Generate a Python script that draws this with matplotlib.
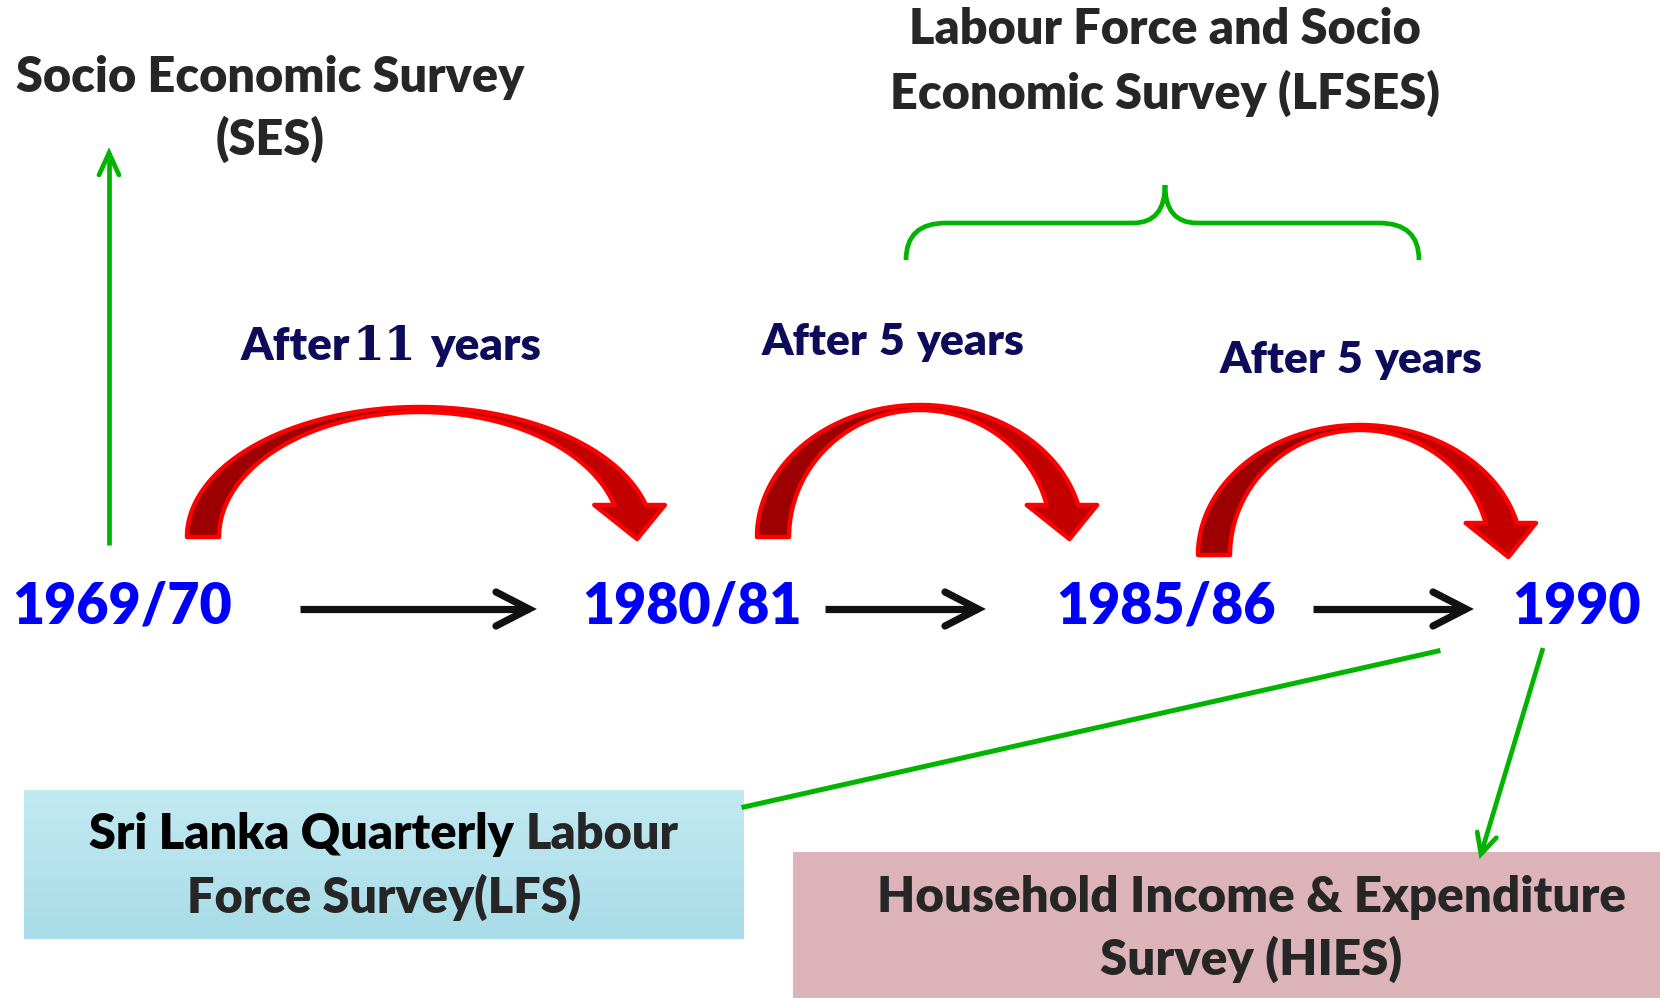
import numpy as np
import matplotlib
matplotlib.use("Agg")
import matplotlib.pyplot as plt
from matplotlib.patches import Polygon, Rectangle, PathPatch
from matplotlib.path import Path

# ---- content ----
years = ["1969/70", "1980/81", "1985/86", "1990"]
gap_years = ["11", "5", "5"]
ses_label = "Socio Economic Survey\n(SES)"
lfses_label = "Labour Force and Socio\nEconomic Survey (LFSES)"
lfs_line1 = [("Sri Lanka Quarterly", "#000000"), ("Labour", "#262626")]
lfs_line2 = "Force Survey(LFS)"
hies_label = "Household Income & Expenditure\nSurvey (HIES)"

# ---- layout (pixel units, y downwards) ----
year_cx = [122, 692, 1166, 1577]
year_base = 624
flow_y = 609
flow_x = [(300, 529), (825, 978), (1313, 1466)]
arc_cx = [420, 920, 1360]
arc_a = [233, 163, 162]
arc_b = [130, 132, 130]
arc_foot = [537, 537, 555]
arc_w = 32
after_x = [241, 762, 1220]
after_base = [360, 355, 373]

FONT = "Lato"
W = "heavy"
DARK = "#262626"
NAVY = "#0c0c5a"
GREEN = "#00b400"

fig = plt.figure(figsize=(16.6, 9.98), dpi=100)
ax = fig.add_axes([0, 0, 1, 1])
ax.set_xlim(0, 1660)
ax.set_ylim(998, 0)
ax.axis("off")
renderer = fig.canvas.get_renderer()


def runs_text(x, y, runs, size, ha="left", gap=0.25):
    # runs: (text, colour, family, weight, size scale)
    objs, widths = [], []
    for s, c, fam, wt, sc in runs:
        t = ax.text(0, y, s, fontsize=size * sc, color=c, family=fam, fontweight=wt,
                    va="baseline", ha="left")
        objs.append(t)
        widths.append(t.get_window_extent(renderer).width)
    gaps = [g * size * 100 / 72 for g in gap] if isinstance(gap, list) else [gap * size * 100 / 72] * len(runs)
    total = sum(widths) + sum(gaps[:-1])
    cur = x - total / 2 if ha == "center" else x
    for i, t in enumerate(objs):
        t.set_x(cur)
        cur += widths[i] + gaps[i]


def chevron_arrow(x0, y0, x1, y1, color, lw, hl, hw):
    ax.plot([x0, x1], [y0, y1], color=color, lw=lw, solid_capstyle="butt")
    d = np.array([x1 - x0, y1 - y0], float)
    d /= np.hypot(*d)
    n = np.array([-d[1], d[0]])
    tip = np.array([x1, y1])
    p1 = tip - d * hl + n * hw
    p2 = tip - d * hl - n * hw
    ax.plot([p1[0], tip[0], p2[0]], [p1[1], tip[1], p2[1]], color=color, lw=lw,
            solid_capstyle="round", solid_joinstyle="miter")


def curved_arrow(cx, foot, a, b, w):
    ai, bi = a - w, b - 5
    head_drop = 32
    th_o = np.arcsin(head_drop / b)
    th_i = np.arcsin(head_drop / bi)

    def ell(A, B, th):
        return np.column_stack([cx + A * np.cos(th), foot - B * np.sin(th)])
    left_o = ell(a, b, np.linspace(np.pi, np.pi / 2, 60))
    left_i = ell(ai, bi, np.linspace(np.pi / 2, np.pi, 60))
    right_o = ell(a, b, np.linspace(np.pi / 2, th_o, 60))
    right_i = ell(ai, bi, np.linspace(th_i, np.pi / 2, 60))
    yb = foot - head_drop
    xo, xi = right_o[-1, 0], right_i[0, 0]
    head = np.array([[xo + 19, yb], [(xo + xi) / 2 + 7, foot + 2], [xi - 20, yb]])
    ax.add_patch(Polygon(np.vstack([left_o, left_i]), closed=True, fc="#9c0000", ec="none"))
    ax.add_patch(Polygon(np.vstack([right_o, head, right_i]), closed=True, fc="#c20000", ec="none"))
    outline = np.vstack([left_o, right_o, head, right_i, left_i])
    ax.add_patch(Polygon(outline, closed=True, fc="none", ec="#ff0000", lw=3.2, joinstyle="round"))


# boxes
blue = np.linspace(0, 1, 50)[:, None] * np.ones((1, 10))
ax.imshow(blue, extent=(24, 743, 939, 790), cmap=matplotlib.colors.LinearSegmentedColormap.from_list(
    "b", ["#c2e9f2", "#a8dce8"]), aspect="auto", zorder=0)
ax.add_patch(Rectangle((793, 852), 867, 146, fc="#dbb3b8", ec="none", zorder=0))
ax.set_xlim(0, 1660)
ax.set_ylim(998, 0)

# top labels
ax.text(270, 109, ses_label, fontsize=35, family=FONT, fontweight=W, color=DARK,
        ha="center", va="center", linespacing=1.4)
ax.text(1165, 62, lfses_label, fontsize=35, family=FONT, fontweight=W, color=DARK,
        ha="center", va="center", linespacing=1.45)

# brace
bx0, bx1, bmid, by_bot, by_h, by_top = 906, 1419, 1165, 260, 223, 185
verts = [(bx0, by_bot), (bx0, by_h), (bx0 + 40, by_h), (bmid - 32, by_h), (bmid, by_h), (bmid, by_top),
         (bmid, by_h), (bmid + 32, by_h), (bx1 - 40, by_h), (bx1, by_h), (bx1, by_bot)]
codes = [Path.MOVETO, Path.CURVE3, Path.CURVE3, Path.LINETO, Path.CURVE3, Path.CURVE3,
         Path.CURVE3, Path.CURVE3, Path.LINETO, Path.CURVE3, Path.CURVE3]
ax.add_patch(PathPatch(Path(verts, codes), fc="none", ec=GREEN, lw=3.4, capstyle="butt"))

# green connectors
chevron_arrow(109, 545, 109, 153, GREEN, 3.4, 22, 10)
ax.plot([1438, 744], [651, 807], color=GREEN, lw=3.6)
chevron_arrow(1543, 648, 1481, 854, GREEN, 3.4, 20, 10)

# timeline
for cx, y in zip(year_cx, years):
    ax.text(cx, year_base, y, fontsize=40, family=FONT, fontweight=W, color="#0000ff",
            ha="center", va="baseline")
for x0, x1 in flow_x:
    chevron_arrow(x0, flow_y, x1, flow_y, "#111111", 5.2, 33, 17)

# curved arrows and gap labels
for i, g in enumerate(gap_years):
    curved_arrow(arc_cx[i], arc_foot[i], arc_a[i], arc_b[i], arc_w)
    if i == 0:
        runs = [("After", NAVY, FONT, W, 1.0), (g, NAVY, "DejaVu Serif", "bold", 1.0),
                ("years", NAVY, FONT, W, 1.0)]
        runs_text(after_x[i], after_base[i], runs, 33, gap=[0.04, 0.3, 0])
    else:
        runs = [("After", NAVY, FONT, W, 1.0), (g, NAVY, FONT, W, 1.0), ("years", NAVY, FONT, W, 1.0)]
        runs_text(after_x[i], after_base[i], runs, 32)

# box texts
runs_text(384, 849, [(s, c, FONT, W, 1.0) for s, c in lfs_line1], 35, ha="center")
ax.text(384, 913, lfs_line2, fontsize=35, family=FONT, fontweight=W, color=DARK,
        ha="center", va="baseline")
ax.text(1251, 929, hies_label, fontsize=35.5, family=FONT, fontweight=W, color=DARK,
        ha="center", va="center", linespacing=1.38)

fig.savefig("out.png", dpi=100)
